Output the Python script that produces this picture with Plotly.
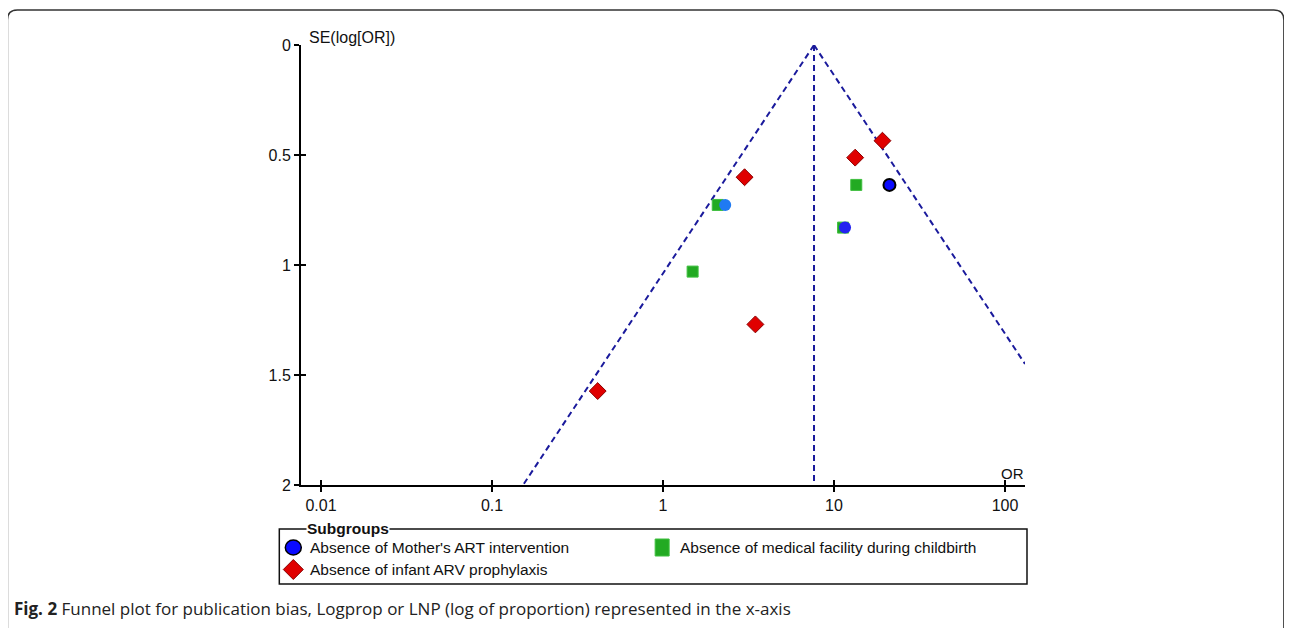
import plotly.graph_objects as go

# ---- data ----
x_ticks = [0.01, 0.1, 1, 10, 100]
x_tick_labels = ["0.01", "0.1", "1", "10", "100"]
y_ticks = [0, 0.5, 1, 1.5, 2]
y_tick_labels = ["0", "0.5", "1", "1.5", "2"]

mother_art_or = [2.31, 21.1, 11.6]
mother_art_se = [0.727, 0.636, 0.830]

facility_or = [2.09, 1.49, 13.5, 11.3]
facility_se = [0.727, 1.03, 0.636, 0.830]

infant_arv_or = [3.0, 19.2, 13.3, 3.47, 0.415]
infant_arv_se = [0.601, 0.435, 0.512, 1.27, 1.573]

pooled_or = 7.64
funnel_left_or = [7.64, 0.152]
funnel_left_se = [0, 2]
funnel_right_or = [7.64, 131.0]
funnel_right_se = [0, 1.45]
centre_se = [0, 2]

legend_labels = ["Absence of Mother's ART intervention",
                 "Absence of medical facility during childbirth",
                 "Absence of infant ARV prophylaxis"]

# ---- styles ----
circle_fill = ["#1f7af2", "#0a0aff", "#2323f0"]
circle_edge = ["#1f7af2", "#000000", "#2323f0"]
circle_edge_w = [0, 2, 0]
FONT = "Liberation Sans, Arial, sans-serif"
NAVY = "#1a1a9c"

# page geometry (page pixels; the page body adds an 8px offset)
OFF = 8
L, R, T, B = 300.7, 1025.0, 45.0, 485.0
W, H = R - L, B - T


def px(x):
    return (x - L) / W


def py(y):
    return (B - y) / H


xr = [-2.117, 2.117]

fig = go.Figure()

dash = dict(color=NAVY, width=2, dash="6px,4px")
fig.add_trace(go.Scatter(x=funnel_left_or, y=funnel_left_se, mode="lines",
                         line=dash, hoverinfo="skip"))
fig.add_trace(go.Scatter(x=funnel_right_or, y=funnel_right_se, mode="lines",
                         line=dash, hoverinfo="skip"))
fig.add_trace(go.Scatter(x=[pooled_or] * len(centre_se), y=centre_se, mode="lines",
                         line=dash, hoverinfo="skip"))

fig.add_trace(go.Scatter(x=facility_or, y=facility_se, mode="markers",
                         name=legend_labels[1],
                         marker=dict(symbol="square", size=11, color="#22aa22",
                                     line=dict(color="#3fbf3f", width=1))))
fig.add_trace(go.Scatter(x=infant_arv_or, y=infant_arv_se, mode="markers",
                         name=legend_labels[2],
                         marker=dict(symbol="diamond", size=13, color="#e00000",
                                     line=dict(color="#8a0000", width=1))))
fig.add_trace(go.Scatter(x=mother_art_or, y=mother_art_se, mode="markers",
                         name=legend_labels[0],
                         marker=dict(symbol="circle", size=12, color=circle_fill,
                                     line=dict(color=circle_edge, width=circle_edge_w))))

# dummy trace for the overlay axes (inside half of crossing ticks)
fig.add_trace(go.Scatter(x=[1], y=[1], xaxis="x2", yaxis="y2", mode="markers",
                         marker=dict(opacity=0), hoverinfo="skip"))

axis_common = dict(showgrid=False, zeroline=False, ticklen=5, tickwidth=2,
                   tickcolor="black")
tickfont = dict(family=FONT, size=16, color="#111")

fig.update_layout(
    width=1292, height=628,
    margin=dict(l=L - OFF, r=1292 - (R - OFF), t=T - OFF, b=628 - (B - OFF), pad=0),
    paper_bgcolor="white", plot_bgcolor="white",
    showlegend=False,
    xaxis=dict(type="log", range=xr, tickvals=x_ticks, ticktext=x_tick_labels,
               ticks="outside", showline=True, linecolor="black", linewidth=2,
               tickfont=tickfont, **axis_common),
    yaxis=dict(range=[2, 0], tickvals=y_ticks, ticktext=y_tick_labels,
               ticks="outside", showline=True, linecolor="black", linewidth=2,
               tickfont=tickfont, **axis_common),
    xaxis2=dict(type="log", range=xr, tickvals=x_ticks, overlaying="x", anchor="y",
                side="bottom", ticks="inside", showticklabels=False, showline=False,
                **axis_common),
    yaxis2=dict(range=[2, 0], tickvals=y_ticks, overlaying="y", anchor="x",
                side="left", ticks="inside", showticklabels=False, showline=False,
                **axis_common),
    font=dict(family=FONT, color="#111"),
)

ann = []
ann.append(dict(text="SE(log[OR])", x=px(307), y=py(37), xref="paper", yref="paper",
                xanchor="left", yanchor="middle", showarrow=False,
                font=dict(family=FONT, size=16, color="#111")))
ann.append(dict(text="OR", x=px(1012), y=py(473), xref="paper", yref="paper",
                xanchor="center", yanchor="middle", showarrow=False,
                font=dict(family=FONT, size=15, color="#111")))

# legend box
shapes = []
box_l, box_r, box_t, box_b = 279, 1027, 529, 584
shapes.append(dict(type="rect", xref="paper", yref="paper",
                   x0=px(box_l), x1=px(box_r), y0=py(box_t), y1=py(box_b),
                   line=dict(color="#111", width=1.5), fillcolor="rgba(0,0,0,0)"))
ann.append(dict(text="<b>Subgroups</b>", x=px(306), y=py(528), xref="paper", yref="paper",
                xanchor="left", yanchor="middle", showarrow=False, bgcolor="white",
                borderpad=0, font=dict(family=FONT, size=15.5, color="#111")))

row1, row2 = 547.5, 569.5
legend_pos = [(293, row1, 308), (662, row1, 678), (293, row2, 308)]
for (mx, my, tx), lab in zip(legend_pos, legend_labels):
    ann.append(dict(text=lab, x=px(tx), y=py(my), xref="paper", yref="paper",
                    xanchor="left", yanchor="middle", showarrow=False,
                    font=dict(family=FONT, size=15.5, color="#111")))

# legend markers (pixel-sized shapes anchored in paper coords)
mx, my = legend_pos[0][0], legend_pos[0][1]
shapes.append(dict(type="circle", xref="paper", yref="paper", xsizemode="pixel",
                   ysizemode="pixel", xanchor=px(mx), yanchor=py(my),
                   x0=-8, x1=8, y0=-7.5, y1=7.5, fillcolor="#0a0aff",
                   line=dict(color="black", width=1.5)))
mx, my = legend_pos[1][0], legend_pos[1][1]
shapes.append(dict(type="rect", xref="paper", yref="paper", xsizemode="pixel",
                   ysizemode="pixel", xanchor=px(mx), yanchor=py(my),
                   x0=-7, x1=7, y0=-8.5, y1=8.5, fillcolor="#22aa22",
                   line=dict(color="#3fbf3f", width=1)))
mx, my = legend_pos[2][0], legend_pos[2][1]
shapes.append(dict(type="path", xref="paper", yref="paper", xsizemode="pixel",
                   ysizemode="pixel", xanchor=px(mx), yanchor=py(my),
                   path="M -10 0 L 0 10 L 10 0 L 0 -10 Z", fillcolor="#e00000",
                   line=dict(color="#8a0000", width=1)))

# outer rounded frame
fl, fr, ft, fb = 7, 1284, 10, 660
r = 10
rx, ry = r / W, r / H
path = (f"M {px(fl)} {py(fb)} L {px(fl)} {py(ft) - ry} "
        f"Q {px(fl)} {py(ft)} {px(fl) + rx} {py(ft)} "
        f"L {px(fr) - rx} {py(ft)} Q {px(fr)} {py(ft)} {px(fr)} {py(ft) - ry} "
        f"L {px(fr)} {py(fb)}")
shapes.append(dict(type="path", xref="paper", yref="paper", path=path,
                   line=dict(color="#333", width=1.5)))

# caption
ann.append(dict(text="<b>Fig. 2</b> Funnel plot for publication bias, Logprop or LNP (log of proportion) represented in the x-axis",
                x=px(12), y=py(608), xref="paper", yref="paper", xanchor="left",
                yanchor="middle", showarrow=False,
                font=dict(family="Open Sans, sans-serif", size=17, color="#222")))

fig.update_layout(annotations=ann, shapes=shapes)
fig.write_html("out.html")
